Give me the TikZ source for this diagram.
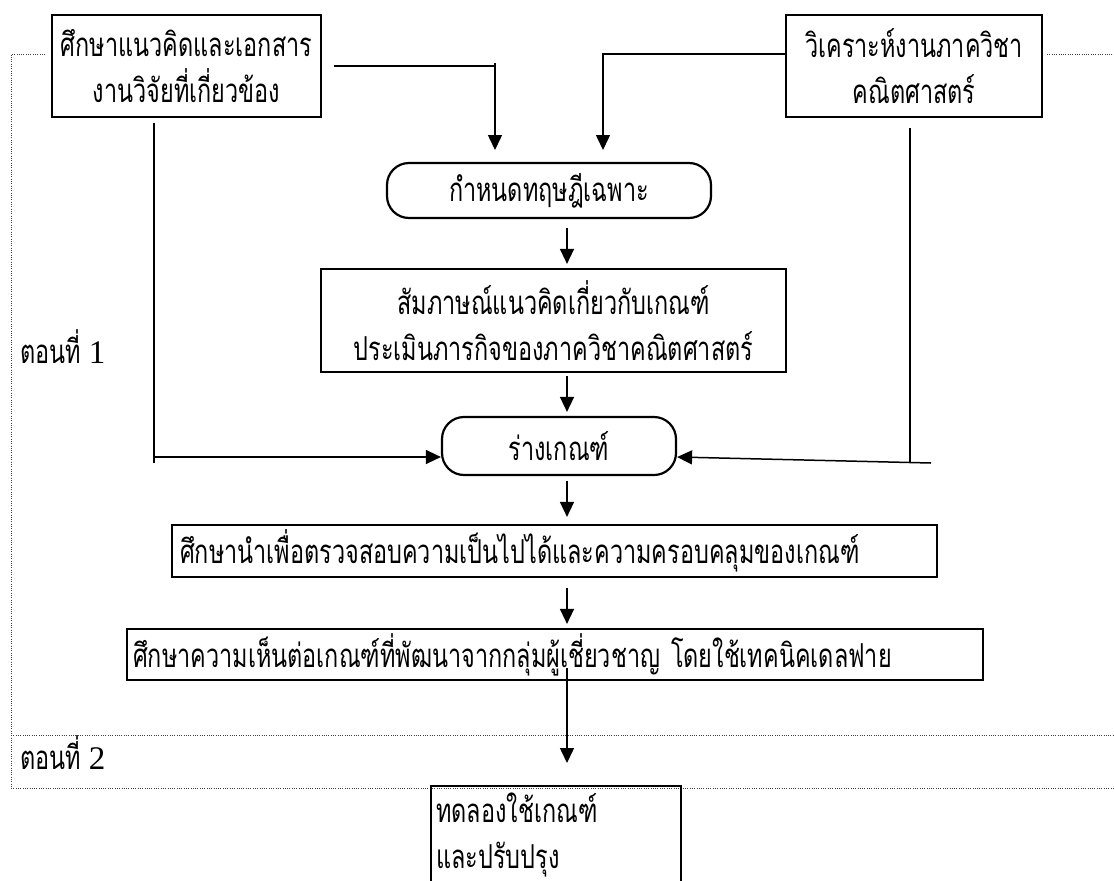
\documentclass[tikz,border=0pt]{standalone}
\usepackage{fontspec}
\newfontfamily\thai[Script=Thai,FakeStretch=0.71]{Loma}
\newfontfamily\lat{Liberation Serif}
\usetikzlibrary{arrows.meta}
\newcommand\thaitext{\thai\fontsize{33}{46}\selectfont}
\begin{document}
\begin{tikzpicture}[x=1pt,y=-1pt,
  box/.style={draw, line width=2.2pt, inner sep=0pt, font=\thaitext, align=center},
  txt/.style={inner sep=0pt, font=\thaitext},
  conn/.style={line width=1.5pt},
  arr/.style={conn, -{Triangle[length=15pt,width=14pt]}},
  dots/.style={line width=0.9pt, dash pattern=on 0.9pt off 1.4pt, black!75}
]
\useasboundingbox (0,0) rectangle (1114,881);
\fill[white] (0,0) rectangle (1114,881);
\clip (0,0) rectangle (1114,881);

% dotted frame
\draw[dots] (45,54) -- (11,54) -- (11,788) -- (1114,788);
\draw[dots] (1047,54) -- (1114,54);
\draw[dots] (11,735) -- (1114,735);

% nodes
\node[box, minimum width=269pt, minimum height=102pt] (A) at (186.5,66) {ศึกษาแนวคิดและเอกสาร\\งานวิจัยที่เกี่ยวข้อง};
\node[box, minimum width=256pt, minimum height=102pt] (B) at (914,66) {วิเคราะห์งานภาควิชา\\คณิตศาสตร์};
\node[box, rounded corners=22pt, minimum width=324pt, minimum height=55pt] (theory) at (549,190.5) {กำหนดทฤษฎีเฉพาะ};
\node[box, minimum width=465pt, minimum height=103pt] (interview) at (553.5,320.5) {สัมภาษณ์แนวคิดเกี่ยวกับเกณฑ์\\ประเมินภารกิจของภาควิชาคณิตศาสตร์};
\node[box, rounded corners=22pt, minimum width=234pt, minimum height=58pt] (draft) at (559,446) {ร่างเกณฑ์};
\node[box, align=left, inner xsep=8pt, text width=749pt, minimum height=52pt] (pilot) at (554.5,551) {ศึกษานำเพื่อตรวจสอบความเป็นไปได้และความครอบคลุมของเกณฑ์};
\node[box, align=left, inner xsep=6pt, text width=844pt, minimum height=51pt] (delphi) at (555,654.5) {ศึกษาความเห็นต่อเกณฑ์ที่พัฒนาจากกลุ่มผู้เชี่ยวชาญ โดยใช้เทคนิคเดลฟาย};
\node[box, anchor=north west, minimum width=250pt, minimum height=120pt] (trial) at (430,785) {};
\node[txt, anchor=west, align=left] (trialtext) at (436,834.5) {ทดลองใช้เกณฑ์\\และปรับปรุง};

\node[txt, anchor=west] (p1) at (20,347) {ตอนที่ {\lat 1}};
\node[txt, anchor=west] (p2) at (20,753) {ตอนที่ {\lat 2}};

% connectors
\coordinate (t1) at (495,150);
\coordinate (t2) at (603,150);
\coordinate (axis) at (567,0);
\draw[conn] ([xshift=12pt]A.east) -- (t1 |- A.east);
\draw[arr] ([yshift=3pt]t1 |- A.east) -- (t1);
\draw[arr] ([yshift=12pt]B.west) -| (t2);

\draw[arr, shorten <=9pt, shorten >=4pt] (theory.south -| axis) -- (interview.north -| axis);
\draw[arr, shorten <=3pt, shorten >=4pt] (interview.south -| axis) -- (draft.north -| axis);
\draw[arr, shorten <=5pt, shorten >=7pt] (draft.south -| axis) -- (pilot.north -| axis);
\draw[arr, shorten <=10pt, shorten >=4pt] (pilot.south -| axis) -- (delphi.north -| axis);
\draw[arr, shorten <=-13pt, shorten >=22pt] (delphi.south -| axis) -- (trial.north -| axis);

\coordinate (lx) at (154,463);
\coordinate (la) at (154,457);
\draw[conn] ([yshift=-5pt]A.south -| lx) -- (lx);
\draw[arr] (la) -- (la -| draft.west);

\coordinate (rx) at (910,463);
\coordinate (rs) at (931,463);
\draw[conn] ([yshift=-10pt]B.south -| rx) -- (rx);
\draw[arr] (rs) -- ([yshift=-11pt]draft.east);
\end{tikzpicture}
\end{document}
